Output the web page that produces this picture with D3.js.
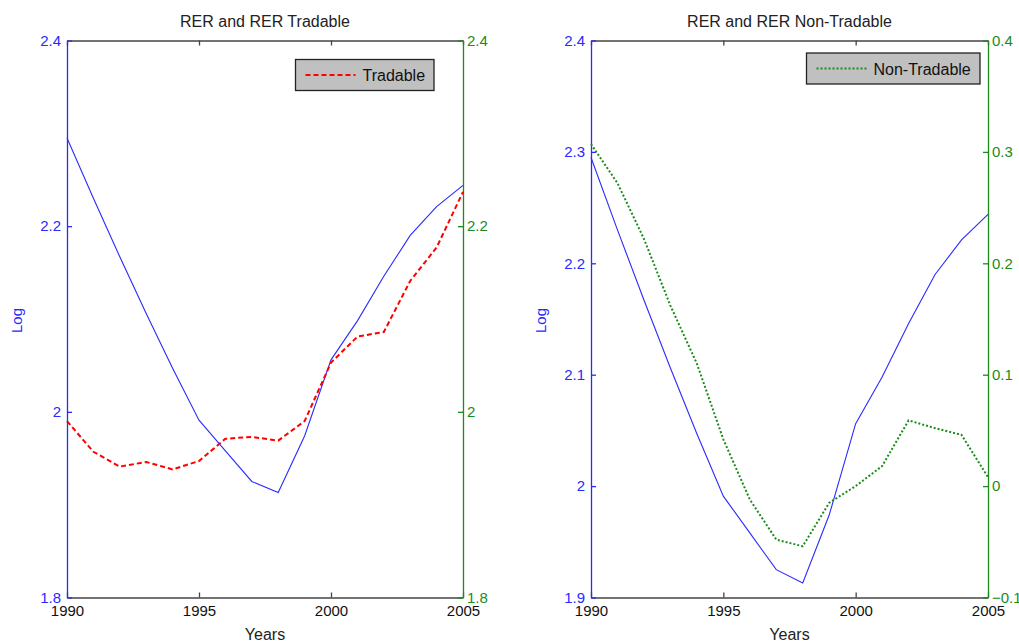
<!DOCTYPE html>
<html>
<head>
<meta charset="utf-8">
<script src="https://cdn.jsdelivr.net/npm/d3@7"></script>
<style>
  body { margin: 0; background: #fff; }
  svg text { font-family: "Liberation Sans", Arial, sans-serif; }
</style>
</head>
<body>
<div id="chart"></div>
<script>
// data
const years = [1990, 1991, 1992, 1993, 1994, 1995, 1996, 1997, 1998, 1999, 2000, 2001, 2002, 2003, 2004, 2005];
const rer = [2.295, 2.230, 2.167, 2.106, 2.047, 1.991, 1.958, 1.925, 1.913, 1.974, 2.056, 2.098, 2.146, 2.190, 2.221, 2.244];
const rerTradable = [1.990, 1.957, 1.941, 1.946, 1.938, 1.947, 1.971, 1.973, 1.969, 1.990, 2.053, 2.081, 2.086, 2.141, 2.177, 2.237];
const rerNonTradable = [0.307, 0.272, 0.222, 0.162, 0.110, 0.042, -0.012, -0.048, -0.054, -0.015, 0.000, 0.018, 0.059, 0.052, 0.046, 0.008];

const xTicks = [1990, 1995, 2000, 2005];
const leftTicksA = [1.8, 2, 2.2, 2.4];
const rightTicksA = [1.8, 2, 2.2, 2.4];
const leftTicksB = [1.9, 2, 2.1, 2.2, 2.3, 2.4];
const rightTicksB = [-0.1, 0, 0.1, 0.2, 0.3, 0.4];

const titles = ["RER and RER Tradable", "RER and RER Non-Tradable"];
const legendLabels = ["Tradable", "Non-Tradable"];

let width = 1019;
let height = 641;

let blue = "#2a2aff";
let green = "#1a8c1a";

let svg = d3.select("#chart").append("svg")
  .attr("width", width)
  .attr("height", height);

let fmt = function(d) { return d3.format("")(d); };

function panel(opts) {
  let x = d3.scaleLinear().domain([1990, 2005]).range([opts.left, opts.right]);
  let yL = d3.scaleLinear().domain(opts.leftDomain).range([opts.bottom, opts.top]);
  let yR = d3.scaleLinear().domain(opts.rightDomain).range([opts.bottom, opts.top]);

  let g = svg.append("g");

  // top / bottom axes
  let bottomAxis = g.append("g")
    .attr("transform", "translate(0," + opts.bottom + ")")
    .call(d3.axisBottom(x).tickValues(xTicks).tickSizeInner(-5).tickSizeOuter(0).tickPadding(8).tickFormat(d3.format("d")));
  bottomAxis.selectAll("path, line").attr("stroke", "#444").attr("stroke-width", 1.3);
  bottomAxis.selectAll("text").attr("fill", "#111").style("font-size", "15px");

  let topAxis = g.append("g")
    .attr("transform", "translate(0," + opts.top + ")")
    .call(d3.axisTop(x).tickValues(xTicks).tickSizeInner(-5).tickSizeOuter(0).tickFormat(""));
  topAxis.selectAll("path, line").attr("stroke", "#444").attr("stroke-width", 1.3);

  // left axis
  let leftAxis = g.append("g")
    .attr("transform", "translate(" + opts.left + ",0)")
    .call(d3.axisLeft(yL).tickValues(opts.leftTicks).tickSizeInner(-5).tickSizeOuter(0).tickPadding(6).tickFormat(fmt));
  leftAxis.selectAll("path, line").attr("stroke", blue).attr("stroke-width", 1.3);
  leftAxis.selectAll("text").attr("fill", blue).style("font-size", "15px");

  // right axis
  let rightAxis = g.append("g")
    .attr("transform", "translate(" + opts.right + ",0)")
    .call(d3.axisRight(yR).tickValues(opts.rightTicks).tickSizeInner(-5).tickSizeOuter(0).tickPadding(4).tickFormat(fmt));
  rightAxis.selectAll("path, line").attr("stroke", green).attr("stroke-width", 1.3);
  rightAxis.selectAll("text").attr("fill", green).style("font-size", "15px");

  // title and labels
  g.append("text")
    .attr("x", (opts.left + opts.right) / 2)
    .attr("y", 26.5)
    .attr("text-anchor", "middle")
    .attr("fill", "#222")
    .style("font-size", "16px")
    .text(opts.title);

  g.append("text")
    .attr("x", (opts.left + opts.right) / 2)
    .attr("y", 640)
    .attr("text-anchor", "middle")
    .attr("fill", "#222")
    .style("font-size", "16px")
    .text("Years");

  g.append("text")
    .attr("transform", "translate(" + (opts.left - 45) + "," + ((opts.top + opts.bottom) / 2 + 1.5) + ") rotate(-90)")
    .attr("text-anchor", "middle")
    .attr("fill", blue)
    .style("font-size", "15px")
    .text("Log");

  // RER line on the left axis
  let lineL = d3.line()
    .x(function(d, i) { return x(years[i]); })
    .y(function(d) { return yL(d); });
  g.append("path")
    .datum(rer)
    .attr("fill", "none")
    .attr("stroke", blue)
    .attr("stroke-width", 1.1)
    .attr("d", lineL);

  // second series on the right axis
  let lineR = d3.line()
    .x(function(d, i) { return x(years[i]); })
    .y(function(d) { return yR(d); });
  g.append("path")
    .datum(opts.series)
    .attr("fill", "none")
    .attr("stroke", opts.color)
    .attr("stroke-width", 2)
    .attr("stroke-dasharray", opts.dash)
    .attr("d", lineR);

  // legend
  let lg = g.append("g").attr("transform", "translate(" + opts.legend.x + "," + opts.legend.y + ")");
  lg.append("rect")
    .attr("width", opts.legend.w)
    .attr("height", 31)
    .attr("fill", "#c0c0c0")
    .attr("stroke", "#222")
    .attr("stroke-width", 1.3);
  lg.append("line")
    .attr("x1", 10).attr("x2", 60)
    .attr("y1", 15.5).attr("y2", 15.5)
    .attr("stroke", opts.color)
    .attr("stroke-width", 2)
    .attr("stroke-dasharray", opts.dash);
  lg.append("text")
    .attr("x", 67)
    .attr("y", 21.5)
    .attr("fill", "#111")
    .style("font-size", "16px")
    .text(opts.legendLabel);
}

panel({
  left: 67, right: 463, top: 40.5, bottom: 597.5,
  leftDomain: [1.8, 2.4], rightDomain: [1.8, 2.4],
  leftTicks: leftTicksA, rightTicks: rightTicksA,
  series: rerTradable, color: "#ff0000", dash: "5,3",
  title: titles[0], legendLabel: legendLabels[0],
  legend: { x: 295.5, y: 59.5, w: 138.5 }
});

panel({
  left: 591, right: 988, top: 40.5, bottom: 597.5,
  leftDomain: [1.9, 2.4], rightDomain: [-0.1, 0.4],
  leftTicks: leftTicksB, rightTicks: rightTicksB,
  series: rerNonTradable, color: green, dash: "2,2",
  title: titles[1], legendLabel: legendLabels[1],
  legend: { x: 806.5, y: 53, w: 173.5 }
});
</script>
</body>
</html>
